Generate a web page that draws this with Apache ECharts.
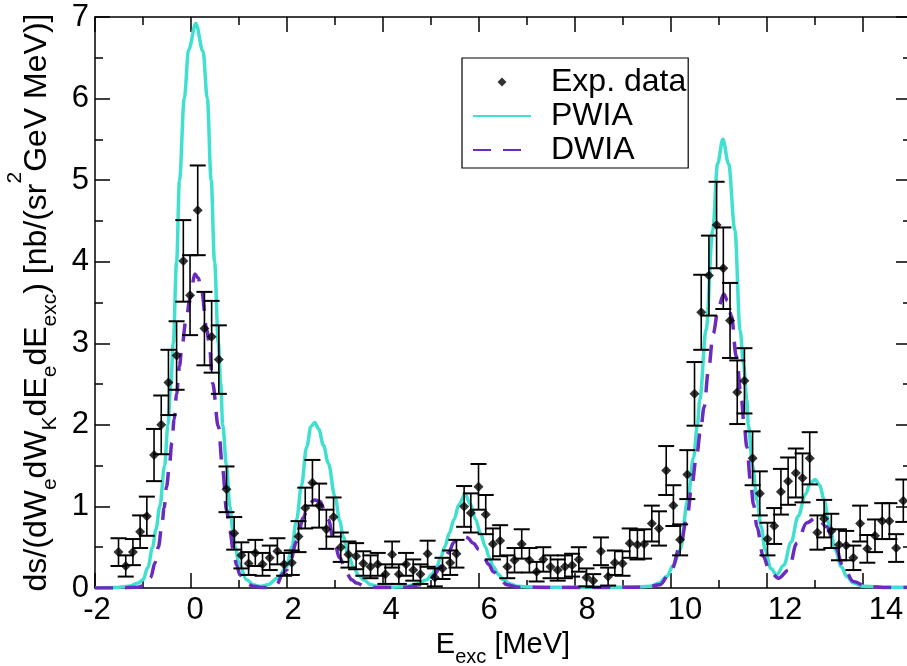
<!DOCTYPE html>
<html>
<head>
<meta charset="utf-8">
<script src="https://cdn.jsdelivr.net/npm/echarts@6/dist/echarts.min.js"></script>
<style>
  html, body { margin: 0; padding: 0; background: #fff; }
  #chart { width: 907px; height: 666px; }
</style>
</head>
<body>
<div id="chart"></div>
<script>
// Measured excitation-energy spectrum (MeV) with statistical errors
const expX = [-1.51, -1.36, -1.21, -1.06, -0.92, -0.77, -0.62, -0.47, -0.30, -0.16,
  -0.02, 0.14, 0.28, 0.43, 0.58, 0.74, 0.90, 1.05, 1.20, 1.34,
  1.49, 1.64, 1.80, 1.94, 2.10, 2.24, 2.38, 2.53, 2.67, 2.82,
  2.97, 3.12, 3.28, 3.44, 3.59, 3.74, 3.89, 4.05, 4.19, 4.33,
  4.48, 4.63, 4.78, 4.93, 5.08, 5.24, 5.40, 5.53, 5.69, 5.83,
  5.99, 6.14, 6.29, 6.44, 6.59, 6.74, 6.89, 7.05, 7.20, 7.34,
  7.49, 7.64, 7.79, 7.94, 8.08, 8.24, 8.38, 8.54, 8.69, 8.83,
  8.99, 9.14, 9.30, 9.44, 9.60, 9.75, 9.90, 10.05, 10.19, 10.34,
  10.49, 10.63, 10.79, 10.95, 11.09, 11.23, 11.38, 11.53, 11.70, 11.85,
  12.01, 12.15, 12.29, 12.44, 12.60, 12.74, 12.89, 13.05, 13.19, 13.34,
  13.50, 13.65, 13.80, 13.94, 14.09, 14.25, 14.40, 14.55, 14.69, 14.84];
const expY = [0.44, 0.27, 0.44, 0.69, 0.88, 1.63, 2.00, 2.52, 2.85, 4.01,
  3.59, 4.63, 3.18, 3.08, 2.80, 1.21, 0.67, 0.40, 0.30, 0.43,
  0.29, 0.37, 0.45, 0.29, 0.31, 0.63, 0.98, 1.29, 1.01, 0.72,
  0.87, 0.50, 0.41, 0.39, 0.30, 0.26, 0.29, 0.17, 0.41, 0.17,
  0.29, 0.22, 0.17, 0.42, 0.13, 0.24, 0.31, 0.42, 1.00, 0.92,
  1.24, 0.90, 0.54, 0.58, 0.26, 0.34, 0.54, 0.34, 0.20, 0.35,
  0.26, 0.22, 0.26, 0.28, 0.35, 0.13, 0.09, 0.45, 0.14, 0.31,
  0.30, 0.55, 0.53, 0.54, 0.79, 0.73, 1.44, 1.01, 0.59, 1.39,
  2.38, 3.38, 3.83, 4.45, 3.92, 3.28, 2.40, 2.54, 1.59, 1.16,
  0.60, 0.76, 1.18, 1.31, 1.41, 1.35, 1.59, 0.68, 0.85, 0.70,
  0.53, 0.52, 0.37, 0.79, 0.48, 0.64, 0.82, 0.82, 0.49, 1.07];
const expErr = [0.17, 0.13, 0.16, 0.20, 0.24, 0.32, 0.36, 0.40, 0.42, 0.50,
  0.49, 0.55, 0.45, 0.44, 0.42, 0.28, 0.20, 0.16, 0.14, 0.16,
  0.14, 0.15, 0.16, 0.14, 0.15, 0.19, 0.25, 0.28, 0.27, 0.24,
  0.24, 0.18, 0.16, 0.16, 0.15, 0.14, 0.14, 0.12, 0.16, 0.12,
  0.14, 0.13, 0.12, 0.16, 0.11, 0.13, 0.15, 0.17, 0.25, 0.24,
  0.28, 0.24, 0.19, 0.19, 0.14, 0.15, 0.18, 0.15, 0.12, 0.15,
  0.14, 0.13, 0.14, 0.14, 0.15, 0.11, 0.08, 0.17, 0.11, 0.15,
  0.15, 0.18, 0.18, 0.18, 0.22, 0.21, 0.30, 0.25, 0.19, 0.30,
  0.39, 0.46, 0.49, 0.53, 0.50, 0.46, 0.39, 0.40, 0.33, 0.27,
  0.20, 0.22, 0.28, 0.29, 0.30, 0.30, 0.32, 0.21, 0.23, 0.21,
  0.19, 0.18, 0.15, 0.22, 0.17, 0.20, 0.22, 0.22, 0.17, 0.26];

// Plane-wave impulse approximation
const pwiaX = [-2.0, -1.6, -1.3, -1.1, -1.0, -0.9, -0.8, -0.73, -0.65, -0.55,
  -0.48, -0.42, -0.37, -0.30, -0.24, -0.14, -0.05, 0.10, 0.25, 0.34,
  0.42, 0.49, 0.57, 0.62, 0.66, 0.74, 0.81, 0.87, 0.92, 1.0,
  1.16, 1.3, 1.44, 1.6, 1.8, 1.99, 2.10, 2.20, 2.30, 2.41,
  2.50, 2.58, 2.66, 2.76, 2.86, 3.00, 3.10, 3.17, 3.27, 3.38,
  3.50, 3.59, 3.75, 3.9, 4.2, 4.5, 4.7, 4.91, 5.02, 5.12,
  5.20, 5.29, 5.38, 5.48, 5.58, 5.71, 5.82, 5.93, 6.03, 6.13,
  6.21, 6.30, 6.40, 6.51, 6.65, 6.79, 7.2, 8.0, 8.8, 9.2,
  9.56, 9.75, 9.91, 10.05, 10.19, 10.35, 10.47, 10.55, 10.60, 10.73,
  10.87, 10.97, 11.08, 11.20, 11.33, 11.44, 11.51, 11.58, 11.61, 11.70,
  11.79, 11.88, 11.96, 12.08, 12.20, 12.35, 12.50, 12.65, 12.80, 12.90,
  13.00, 13.10, 13.19, 13.30, 13.42, 13.55, 13.66, 13.80, 14.0, 14.5, 15.0];
const pwiaY = [0.0, 0.005, 0.02, 0.06, 0.1, 0.25, 0.5, 0.72, 1.0, 1.5,
  2.0, 2.5, 3.0, 4.0, 5.0, 6.0, 6.6, 6.92, 6.58, 6.0,
  5.0, 4.0, 3.0, 2.5, 2.0, 1.5, 1.0, 0.72, 0.5, 0.3,
  0.1, 0.04, 0.02, 0.04, 0.12, 0.26, 0.5, 0.84, 1.25, 1.73,
  1.98, 2.03, 1.95, 1.75, 1.53, 1.12, 0.82, 0.63, 0.42, 0.26,
  0.15, 0.10, 0.04, 0.02, 0.01, 0.02, 0.05, 0.10, 0.17, 0.26,
  0.37, 0.51, 0.67, 0.84, 1.02, 1.15, 1.03, 0.84, 0.67, 0.51,
  0.38, 0.26, 0.17, 0.10, 0.05, 0.02, 0.01, 0.01, 0.01, 0.01,
  0.02, 0.06, 0.14, 0.28, 0.47, 1.08, 1.6, 2.0, 2.31, 3.16,
  4.39, 5.2, 5.50, 5.2, 4.39, 3.16, 2.75, 2.31, 2.0, 1.5,
  1.08, 0.75, 0.47, 0.24, 0.16, 0.28, 0.56, 0.88, 1.15, 1.28,
  1.33, 1.26, 1.08, 0.76, 0.47, 0.26, 0.14, 0.06, 0.02, 0.01, 0.01];

// Distorted-wave impulse approximation
const dwiaX = [-2.0, -1.5, -1.1, -0.92, -0.84, -0.75, -0.68, -0.61, -0.56, -0.51,
  -0.45, -0.40, -0.35, -0.30, -0.24, -0.19, -0.10, -0.02, 0.08, 0.15,
  0.22, 0.33, 0.38, 0.45, 0.57, 0.66, 0.74, 0.81, 0.88, 0.95,
  1.02, 1.15, 1.30, 1.5, 1.65, 1.78, 1.92, 1.99, 2.06, 2.20,
  2.34, 2.44, 2.57, 2.69, 2.78, 2.86, 2.97, 3.10, 3.24, 3.35,
  3.45, 3.63, 3.9, 4.5, 4.77, 4.98, 5.08, 5.19, 5.36, 5.48,
  5.62, 5.75, 5.88, 6.00, 6.09, 6.20, 6.30, 6.45, 6.58, 6.8,
  8.0, 9.5, 9.77, 10.01, 10.19, 10.34, 10.43, 10.53, 10.62, 10.69,
  10.78, 10.88, 10.99, 11.10, 11.18, 11.26, 11.36, 11.47, 11.52, 11.58,
  11.66, 11.72, 11.79, 11.92, 12.06, 12.24, 12.45, 12.62, 12.83, 13.04,
  13.24, 13.42, 13.59, 13.80, 14.08, 14.5, 15.0];
const dwiaY = [0.0, 0.0, 0.01, 0.04, 0.13, 0.31, 0.5, 0.75, 0.98, 1.24,
  1.5, 1.78, 2.07, 2.38, 2.72, 2.96, 3.3, 3.55, 3.85, 3.8,
  3.65, 3.16, 3.0, 2.51, 1.98, 1.45, 0.96, 0.7, 0.47, 0.28,
  0.16, 0.06, 0.02, 0.005, 0.01, 0.04, 0.18, 0.22, 0.31, 0.57,
  0.86, 1.02, 1.08, 1.06, 0.96, 0.84, 0.59, 0.37, 0.18, 0.10,
  0.06, 0.02, 0.005, 0.01, 0.04, 0.10, 0.17, 0.26, 0.43, 0.56,
  0.65, 0.62, 0.55, 0.47, 0.39, 0.29, 0.20, 0.10, 0.04, 0.01,
  0.005, 0.01, 0.04, 0.22, 0.51, 0.88, 1.24, 1.61, 1.95, 2.22,
  2.67, 3.12, 3.45, 3.60, 3.52, 3.33, 2.84, 2.30, 2.02, 1.73,
  1.29, 1.02, 0.75, 0.39, 0.20, 0.12, 0.22, 0.55, 0.80, 0.87,
  0.75, 0.51, 0.26, 0.08, 0.02, 0.005, 0.005];

// Axis labels along E_exc and their small rightward nudges (px)
const xTickLabels = [-2, 0, 2, 4, 6, 8, 10, 12, 14];
const xLabelNudge = [2, 4, 6, 8, 10, 12, 14, 18, 23];

const FONT = '"Liberation Sans", Arial, Helvetica, sans-serif';
const BLACK = '#000';
const CYAN = '#40E0D0';
const PURPLE = '#6B2BBF';
// Square-proportioned diamond so the legend keeps its aspect ratio
const DIAMOND_ICON = 'path://M5,0L10,5L5,10L0,5Z';

const zip = (xs, ys) => xs.map((x, i) => [x, ys[i]]);
const expPoints = zip(expX, expY);
const errBars = expX.map((x, i) => [x, expY[i] - expErr[i], expY[i] + expErr[i]]);

const xRich = {};
xTickLabels.forEach((v, i) => {
  xRich['t' + i] = {
    fontSize: 31, fontFamily: FONT, color: BLACK,
    padding: [0, 0, 0, 2 * xLabelNudge[i]]
  };
});

const axisCommon = {
  type: 'value',
  splitLine: { show: false },
  axisLine: { show: true, onZero: false, lineStyle: { color: BLACK, width: 1.5 } },
  axisTick: { show: true, inside: true, length: 15, lineStyle: { color: BLACK, width: 1.5 } },
  minorSplitLine: { show: false }
};

const minorX = (pos) => ({
  type: 'value', position: pos, min: -2, max: 15, interval: 1,
  splitLine: { show: false },
  axisLine: { show: false, onZero: false },
  axisLabel: { show: false },
  axisTick: { show: true, inside: true, length: 8, lineStyle: { color: BLACK, width: 1.5 } }
});

const chart = echarts.init(document.getElementById('chart'), null, { renderer: 'canvas' });

chart.setOption({
  animation: false,
  backgroundColor: '#fff',
  grid: { left: 95, right: -4, top: 17, bottom: 78, containLabel: false, outerBoundsMode: 'none' },
  xAxis: [
    Object.assign({}, axisCommon, {
      position: 'bottom', min: -2, max: 15, interval: 2,
      axisLabel: {
        show: true, margin: 7, showMaxLabel: false,
        fontSize: 31, fontFamily: FONT, color: BLACK,
        formatter: (v) => {
          const i = xTickLabels.indexOf(v);
          return i < 0 ? '' : '{t' + i + '|' + v + '}';
        },
        rich: xRich
      },
      name: '{m|E}{s|exc}{m| [MeV]}',
      nameLocation: 'middle',
      nameGap: 28,
      nameTextStyle: {
        rich: {
          m: { fontSize: 29, fontFamily: FONT, color: BLACK },
          s: { fontSize: 20, fontFamily: FONT, color: BLACK, padding: [24, 0, 0, 0] }
        }
      }
    }),
    minorX('bottom'),
    Object.assign({}, axisCommon, {
      position: 'top', min: -2, max: 15, interval: 2,
      axisLabel: { show: false }
    }),
    minorX('top')
  ],
  yAxis: [
    Object.assign({}, axisCommon, {
      position: 'left', min: 0, max: 7, interval: 1,
      minorTick: { show: true, splitNumber: 2, length: 8, lineStyle: { color: BLACK, width: 1.5 } },
      axisLabel: { show: true, margin: 6, fontSize: 31, fontFamily: FONT, color: BLACK },
      name: '{m|ds/(dW}{s|e}{m|dW}{s|K}{m|dE}{s|e}{m|dE}{s|exc}{m|) [nb/(sr}{p|2}{m|GeV MeV)]}',
      nameLocation: 'middle',
      nameRotate: 90,
      nameGap: 23,
      nameTextStyle: {
        rich: {
          m: { fontSize: 32, fontFamily: FONT, color: BLACK },
          s: { fontSize: 21, fontFamily: FONT, color: BLACK, padding: [26, 0, 0, 0] },
          p: { fontSize: 21, fontFamily: FONT, color: BLACK, padding: [0, 0, 44, 0] }
        }
      }
    }),
    Object.assign({}, axisCommon, {
      position: 'right', min: 0, max: 7, interval: 1,
      minorTick: { show: true, splitNumber: 2, length: 8, lineStyle: { color: BLACK, width: 1.5 } },
      axisLabel: { show: false }
    })
  ],
  legend: {
    orient: 'vertical',
    left: 462, top: 58,
    padding: [7, 2, 1, 10],
    itemGap: 0,
    itemWidth: 58,
    itemHeight: 9,
    symbolKeepAspect: true,
    borderColor: BLACK,
    borderWidth: 1.2,
    borderRadius: 0,
    backgroundColor: '#fff',
    textStyle: { fontSize: 32, fontFamily: FONT, color: BLACK, lineHeight: 34, padding: [0, 0, 0, 15] },
    data: [
      { name: 'Exp. data', icon: DIAMOND_ICON },
      { name: 'PWIA', itemStyle: { opacity: 0 } },
      { name: 'DWIA', itemStyle: { opacity: 0 } }
    ]
  },
  series: [
    {
      name: 'PWIA', type: 'line', data: zip(pwiaX, pwiaY),
      showSymbol: false, symbol: 'none',
      smooth: 0.35, smoothMonotone: 'x',
      lineStyle: { color: CYAN, width: 3.5 },
      itemStyle: { color: CYAN, opacity: 0 },
      z: 2
    },
    {
      name: 'DWIA', type: 'line', data: zip(dwiaX, dwiaY),
      showSymbol: false, symbol: 'none',
      smooth: 0.35, smoothMonotone: 'x',
      lineStyle: { color: PURPLE, width: 3.5, type: [18, 12] },
      itemStyle: { color: PURPLE, opacity: 0 },
      z: 3
    },
    {
      name: 'Exp. data errors', type: 'custom', data: errBars,
      encode: { x: 0, y: [1, 2] },
      renderItem: (params, api) => {
        const x = api.value(0);
        const lo = api.coord([x, api.value(1)]);
        const hi = api.coord([x, api.value(2)]);
        const hw = 8;
        const st = { stroke: BLACK, lineWidth: 1.6 };
        const cap = { stroke: BLACK, lineWidth: 2 };
        return {
          type: 'group',
          children: [
            { type: 'line', shape: { x1: lo[0], y1: lo[1], x2: hi[0], y2: hi[1] }, style: st },
            { type: 'line', shape: { x1: lo[0] - hw, y1: lo[1], x2: lo[0] + hw, y2: lo[1] }, style: cap },
            { type: 'line', shape: { x1: hi[0] - hw, y1: hi[1], x2: hi[0] + hw, y2: hi[1] }, style: cap }
          ]
        };
      },
      z: 4
    },
    {
      name: 'Exp. data', type: 'scatter', data: expPoints,
      symbol: 'diamond', symbolSize: 10,
      itemStyle: { color: BLACK },
      z: 5
    }
  ]
});
</script>
</body>
</html>
